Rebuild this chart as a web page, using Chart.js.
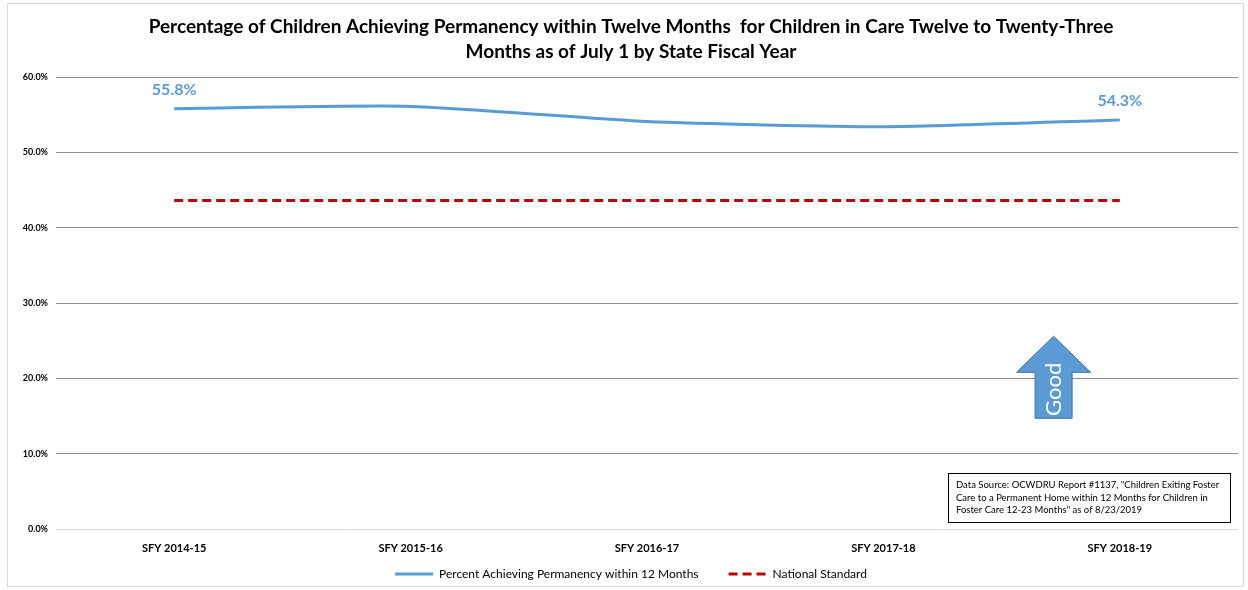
<!DOCTYPE html>
<html>
<head>
<meta charset="utf-8">
<script src="https://cdn.jsdelivr.net/npm/chart.js@4.4.1/dist/chart.umd.min.js"></script>
<style>
    html, body { margin: 0; padding: 0; background: #fff; }
    #wrap { width: 1248px; height: 590px; }
</style>
</head>
<body>
<div id="wrap"><canvas id="chart" width="1248" height="590"></canvas></div>
<script>
const years = ['SFY 2014-15', 'SFY 2015-16', 'SFY 2016-17', 'SFY 2017-18', 'SFY 2018-19'];
const permanency = [55.8, 56.1, 54.1, 53.4, 54.3];
const nationalStandard = [43.6, 43.6, 43.6, 43.6, 43.6];
const yTicks = [0, 10, 20, 30, 40, 50, 60];

const titleLines = [
    'Percentage of Children Achieving Permanency within Twelve Months  for Children in Care Twelve to Twenty-Three',
    'Months as of July 1 by State Fiscal Year'
];
const sourceLines = [
    'Data Source: OCWDRU Report #1137, "Children Exiting Foster',
    'Care to a Permanent Home within 12 Months for Children in',
    'Foster Care 12-23 Months" as of 8/23/2019'
];

const BLUE = '#5B9BD5';
const RED = '#C00000';
const FONT = 'Lato, "Open Sans", sans-serif';

// label the first and last point of the blue line
const endLabels = {
    id: 'endLabels',
    afterDatasetsDraw(chart) {
        const ctx = chart.ctx;
        const meta = chart.getDatasetMeta(0);
        ctx.save();
        ctx.font = 'bold 16px ' + FONT;
        ctx.fillStyle = BLUE;
        ctx.textAlign = 'center';
        ctx.textBaseline = 'middle';
        [0, permanency.length - 1].forEach(i => {
            const pt = meta.data[i];
            ctx.fillText(permanency[i].toFixed(1) + '%', pt.x, pt.y - 19);
        });
        ctx.restore();
    }
};

// x axis is squeezed so the plot reaches down to the legend; let its labels show below it
const xLabelRoom = {
    id: 'xLabelRoom',
    afterLayout(chart) {
        const x = chart.scales.x;
        x.bottom = x.top + 30;
    }
};

// the "Good" arrow and the data source box
const extras = {
    id: 'extras',
    afterDraw(chart) {
        const ctx = chart.ctx;
        const x = chart.scales.x, y = chart.scales.y;
        const area = chart.chartArea;

        // outer frame
        ctx.save();
        ctx.strokeStyle = '#d9d9d9';
        ctx.lineWidth = 1;
        ctx.strokeRect(7.5, 3.5, 1236, 583);
        ctx.restore();

        // arrow
        const cx = x.getPixelForValue(3.72);
        const tip = y.getPixelForValue(25.6);
        const neck = y.getPixelForValue(20.8);
        const tail = y.getPixelForValue(14.7);
        const hw = 37, sw = 18.5;
        ctx.save();
        ctx.beginPath();
        ctx.moveTo(cx, tip);
        ctx.lineTo(cx + hw, neck);
        ctx.lineTo(cx + sw, neck);
        ctx.lineTo(cx + sw, tail);
        ctx.lineTo(cx - sw, tail);
        ctx.lineTo(cx - sw, neck);
        ctx.lineTo(cx - hw, neck);
        ctx.closePath();
        ctx.fillStyle = '#5B9BD5';
        ctx.fill();
        ctx.strokeStyle = '#41719C';
        ctx.lineWidth = 1;
        ctx.stroke();
        ctx.translate(cx, (neck + tail) / 2 - 6);
        ctx.rotate(-Math.PI / 2);
        ctx.fillStyle = '#fff';
        ctx.font = '22px ' + FONT;
        ctx.textAlign = 'center';
        ctx.textBaseline = 'middle';
        ctx.fillText('Good', 0, 0);
        ctx.restore();

        // data source box
        const bw = 282, bh = 49;
        const bx = area.right - 8 - bw, by = area.bottom - 7 - bh;
        ctx.save();
        ctx.fillStyle = '#fff';
        ctx.fillRect(bx, by, bw, bh);
        ctx.strokeStyle = '#000';
        ctx.lineWidth = 1;
        ctx.strokeRect(Math.round(bx) + 0.5, Math.round(by) + 0.5, bw, bh);
        ctx.fillStyle = '#000';
        ctx.font = '9.5px ' + FONT;
        ctx.textBaseline = 'middle';
        sourceLines.forEach((line, i) => {
            ctx.fillText(line, bx + 8, by + 12 + i * 12.5);
        });
        ctx.restore();
    }
};

new Chart(document.getElementById('chart'), {
    type: 'line',
    data: {
        labels: years,
        datasets: [{
            label: 'Percent Achieving Permanency within 12 Months',
            data: permanency,
            borderColor: BLUE,
            backgroundColor: BLUE,
            borderWidth: 3,
            pointRadius: 0,
            pointStyle: 'line',
            tension: 0.2,
            fill: false
        }, {
            label: 'National Standard',
            data: nationalStandard,
            borderColor: RED,
            backgroundColor: RED,
            borderWidth: 3,
            borderDash: [9, 5],
            pointRadius: 0,
            pointStyle: 'line',
            fill: false
        }]
    },
    options: {
        responsive: false,
        animation: false,
        layout: {
            padding: { left: 12, right: -2, top: 0, bottom: 0 }
        },
        plugins: {
            title: {
                display: true,
                text: titleLines,
                color: '#000',
                font: { family: FONT, size: 19, weight: 'bold', lineHeight: 25 / 19 },
                padding: { top: 14, bottom: 13 }
            },
            legend: {
                position: 'bottom',
                labels: {
                    usePointStyle: true,
                    pointStyleWidth: 38,
                    color: '#000',
                    font: { family: FONT, size: 12 },
                    padding: 30,
                    generateLabels(chart) {
                        const items = Chart.defaults.plugins.legend.labels.generateLabels(chart);
                        items.forEach(item => {
                            const ds = chart.data.datasets[item.datasetIndex];
                            item.lineDash = ds.borderDash || [];
                            item.lineWidth = ds.borderWidth;
                            item.strokeStyle = ds.borderColor;
                        });
                        return items;
                    }
                }
            },
            tooltip: { enabled: false }
        },
        scales: {
            x: {
                offset: true,
                afterFit(scale) { scale.height = 9; },
                grid: { display: false, drawTicks: false },
                border: { display: false },
                ticks: {
                    color: '#000',
                    font: { family: FONT, size: 11, weight: 'bold' },
                    padding: 13
                }
            },
            y: {
                min: 0,
                max: 60,
                afterFit(scale) { scale.width = 44; },
                afterBuildTicks(scale) { scale.ticks = yTicks.map(v => ({ value: v })); },
                border: { display: false },
                grid: {
                    drawTicks: false,
                    color: ctx => ctx.tick && ctx.tick.value === 0 ? '#d9d9d9' : '#8c8c8c'
                },
                ticks: {
                    color: '#000',
                    padding: 8,
                    font: { family: FONT, size: 9, weight: 'bold' },
                    callback: v => v.toFixed(1) + '%'
                }
            },
            // empty right-hand margin so the plot ends where the reference's does
            yRight: {
                position: 'right',
                display: true,
                afterFit(scale) { scale.width = 12; },
                grid: { display: false },
                border: { display: false },
                ticks: { display: false }
            }
        }
    },
    plugins: [endLabels, xLabelRoom, extras]
});
</script>
</body>
</html>
